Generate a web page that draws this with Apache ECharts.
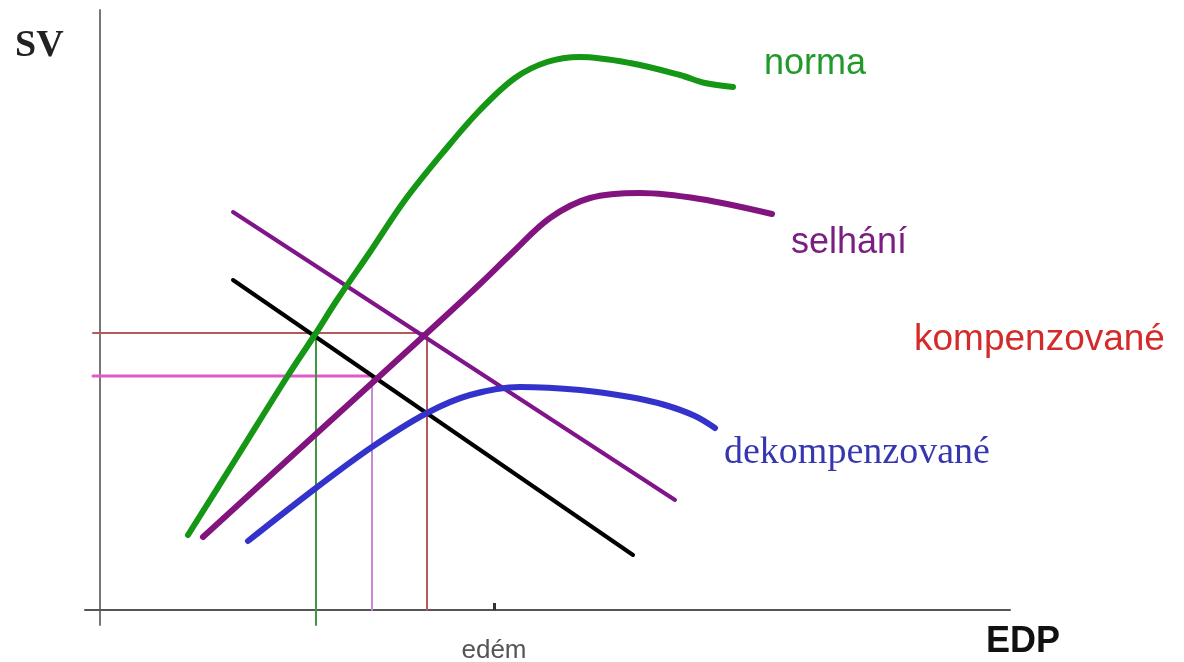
<!DOCTYPE html>
<html>
<head>
<meta charset="utf-8">
<script src="https://cdn.jsdelivr.net/npm/echarts@6/dist/echarts.min.js"></script>
<style>html,body{margin:0;padding:0;background:#fff}#c{width:1184px;height:662px}</style>
</head>
<body>
<div id="c"></div>
<script>
// Data (x = EDP units, y = SV units)
const normaPts = [[88,75],[137,153],[187,233],[216,277],[237,310],[270,358],[305,410],[345,460],[380,500],[415,532],[447,548],[480,553],[530,547],[580,535],[605,527],[633,523]];
const selhaniPts = [[103,73],[216,176],[327,277],[380,326],[412,357],[450,392],[490,412],[540,417],[600,411],[672,396]];
const dekompPts = [[148,69],[216,122],[272,163],[327,197],[370,215],[420,223],[480,220],[530,213],[565,205],[595,194],[615,182]];
const purpleLine = [[133,398],[575,110]];
const blackLine = [[133,330],[533,55]];
const redH = [[-7,277],[327,277]];
const redV = [[327,277],[327,0]];
const pinkH = [[-7,234],[272,234]];
const lilacV = [[272,234],[272,0]];
const greenV = [[216,277],[216,-15]];
const tickValues = [394];
const tickLabels = ['edém'];

const chart = echarts.init(document.getElementById('c'));
function line(data, color, width, smooth) {
  return {type:'line', data, smooth: smooth || false, showSymbol:false, symbol:'none',
    lineStyle:{color, width, cap:'round', join:'round'}, z: 3};
}
chart.setOption({
  animation:false,
  backgroundColor:'#fff',
  grid:{left:85, right:174, top:10, bottom:37, outerBoundsMode:'none', containLabel:false},
  xAxis:{type:'value', min:-15, max:910, splitLine:{show:false},
    axisLine:{onZero:true, lineStyle:{color:'#555', width:2}},
    axisTick:{show:true, inside:true, length:7, customValues:tickValues, lineStyle:{color:'#333', width:3}},
    axisLabel:{show:true, customValues:tickValues, margin:13, fontSize:26, color:'#555', fontFamily:'Liberation Sans',
      formatter:(v)=>{const i=tickValues.indexOf(v);return i>=0?tickLabels[i]:'';}}},
  yAxis:{type:'value', min:-15, max:600, splitLine:{show:false},
    axisLine:{onZero:true, lineStyle:{color:'#777', width:2}},
    axisTick:{show:false}, axisLabel:{show:false}},
  graphic:[
    {type:'text', left:15, top:27, style:{text:'SV', font:'bold 38px "Liberation Serif"', fill:'#222'}},
    {type:'text', left:986, top:624, style:{text:'EDP', font:'bold 36px "Liberation Sans"', fill:'#111'}},
    {type:'text', left:764, top:46, style:{text:'norma', font:'36px "Liberation Sans"', fill:'#22992a'}},
    {type:'text', left:791, top:225, style:{text:'selhání', font:'36px "Liberation Sans"', fill:'#7a1f82'}},
    {type:'text', left:914, top:321, style:{text:'kompenzované', font:'37px "Liberation Sans"', fill:'#d42a2a'}},
    {type:'text', left:724, top:434, style:{text:'dekompenzované', font:'38px "Liberation Serif"', fill:'#3636b0'}}
  ],
  series:[
    line(redH,'#b45a5a',2), line(redV,'#b45a5a',2),
    line(pinkH,'#e05ac8',3), line(lilacV,'#c88ad6',2), line(greenV,'#3f9a3f',2),
    line(purpleLine,'#80148a',4), line(blackLine,'#000',4),
    line(dekompPts,'#3333cc',6,0.35), line(selhaniPts,'#82147f',6,0.35), line(normaPts,'#159615',6,0.35)
  ]
});
</script>
</body>
</html>
